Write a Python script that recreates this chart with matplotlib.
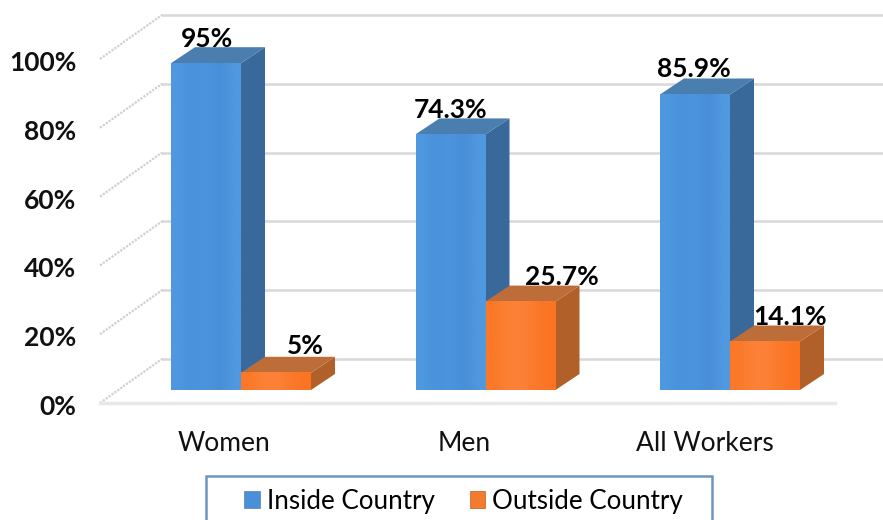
#!/usr/bin/env python3
"""Pseudo-3D clustered columns: work location by gender."""
import numpy as np
import matplotlib
matplotlib.use('Agg')
import matplotlib.pyplot as plt
from matplotlib.patches import Polygon, Patch, Rectangle
from matplotlib.transforms import ScaledTranslation

categories = ['Women', 'Men', 'All Workers']
inside_vals = [95, 74.3, 85.9]
outside_vals = [5, 25.7, 14.1]
inside_labels = ['95%', '74.3%', '85.9%']
outside_labels = ['5%', '25.7%', '14.1%']
y_ticks = [0, 20, 40, 60, 80, 100]
y_tick_labels = ['0%', '20%', '40%', '60%', '80%', '100%']

# pixel geometry of the picture
W, H = 883, 520
PX_X = 244.5   # px per category
PX_Y = 3.44    # px per percent
X0_PX = 241    # px of first category centre (boundary between its two bars)
AX_L, AX_R, AX_B, AX_T = 100, 883, 403, 15

BAR_W = 70 / PX_X
DX, DY = 24 / PX_X, 16 / PX_Y          # bar depth
BASE = 13 / PX_Y                       # bars stand behind the floor's front edge
WALL_DX, WALL_DY = 62 / PX_X, 44 / PX_Y
FLOOR_END = (835 - X0_PX) / PX_X

plt.rcParams['font.family'] = ['Lato', 'DejaVu Sans']

fig = plt.figure(figsize=(W / 100, H / 100), dpi=100)
ax = fig.add_axes([AX_L / W, 1 - AX_B / H, (AX_R - AX_L) / W, (AX_B - AX_T) / H])
xlim = ((AX_L - X0_PX) / PX_X, (AX_R - X0_PX) / PX_X)
ylim = (0, (AX_B - AX_T) / PX_Y)


def draw_bar(x, val, front, side, top, z):
    """One column: gradient front face plus side and top parallelograms."""
    y0, y1 = BASE, BASE + val
    ax.add_patch(Polygon([(x + BAR_W, y0), (x + BAR_W + DX, y0 + DY),
                          (x + BAR_W + DX, y1 + DY), (x + BAR_W, y1)],
                         closed=True, fc=side, ec='none', zorder=z))
    ax.add_patch(Polygon([(x, y1), (x + DX, y1 + DY), (x + BAR_W + DX, y1 + DY),
                          (x + BAR_W, y1)],
                         closed=True, fc=top, ec='none', zorder=z + 0.1))
    grad = np.array(front, dtype=float)[None, :, :] / 255
    ax.imshow(grad, extent=(x, x + BAR_W, y0, y1), aspect='auto',
              interpolation='bilinear', zorder=z + 0.2)


# back wall and left wall gridlines
left_x = xlim[0]
for t in y_ticks:
    ax.plot([left_x + WALL_DX, xlim[1]], [t + WALL_DY, t + WALL_DY],
            color='#d8d8d8', lw=1.8, zorder=1, clip_on=False)
    ax.plot([left_x, left_x + WALL_DX], [t, t + WALL_DY], color='#d0d0d0', lw=1.6,
            ls=(0, (1, 0.6)), zorder=1, clip_on=False)
ax.plot([left_x, FLOOR_END], [0, 0], color='#e8e8e8', lw=2.5, zorder=1, clip_on=False)

blue_front = [(78, 152, 224), (74, 146, 220), (76, 148, 222), (72, 142, 216), (80, 152, 224)]
orange_front = [(250, 120, 40), (252, 128, 52), (253, 130, 56), (251, 122, 44), (250, 116, 34)]

for i in range(len(categories)):
    draw_bar(i - BAR_W, inside_vals[i], blue_front, '#38699a', '#4a7eae', 2 + i)
    draw_bar(i, outside_vals[i], orange_front, '#b2602a', '#bd6d38', 2.5 + i)

# value labels, nudged in px as in the source picture
in_nudge = [(1, -4), (0, -4), (-1, -2)]
out_nudge = [(29, -1), (41, -3), (25, -4)]
for i in range(len(categories)):
    ax.annotate(inside_labels[i], xy=(i - BAR_W / 2, inside_vals[i] + BASE + DY),
                xytext=in_nudge[i], textcoords='offset pixels', ha='center', va='bottom',
                fontsize=19, fontweight='bold', color='black', zorder=20, annotation_clip=False)
    ax.annotate(outside_labels[i], xy=(i + BAR_W / 2, outside_vals[i] + BASE + DY),
                xytext=out_nudge[i], textcoords='offset pixels', ha='center', va='bottom',
                fontsize=19, fontweight='bold', color='black', zorder=20, annotation_clip=False)

ax.set_xlim(*xlim)
ax.set_ylim(*ylim)
ax.set_yticks(y_ticks)
ax.set_yticklabels(y_tick_labels, fontsize=19, fontweight='bold', color='#111111')
ax.set_xticks([(224 - X0_PX) / PX_X, (464 - X0_PX) / PX_X, (705 - X0_PX) / PX_X])
ax.set_xticklabels(categories, fontsize=19, color='#111111')
ax.tick_params(axis='y', length=0, pad=17)
ax.tick_params(axis='x', length=0, pad=20)
# labels sit a little below their gridline in the original
shift = ScaledTranslation(0, -1.5 / 72, fig.dpi_scale_trans)
for lab in ax.get_yticklabels():
    lab.set_transform(lab.get_transform() + shift)
for s in ax.spines.values():
    s.set_visible(False)
ax.patch.set_alpha(0)

# legend frame runs off the bottom of the picture
fig.add_artist(Rectangle((206 / W, -10 / H), (712 - 206) / W, (520 - 476 + 10) / H,
                         transform=fig.transFigure, fc='white', ec='#6f94c4', lw=1.8))
handles = [Patch(fc='#4a90d9', ec='#5a7fa8', lw=0.5, label='Inside Country'),
           Patch(fc='#f47a2c', ec='#b2602a', lw=0.5, label='Outside Country')]
leg = fig.legend(handles=handles, ncol=2, loc='center left',
                 bbox_to_anchor=(244 / W, 1 - 501 / H), fontsize=18.7, frameon=False,
                 handlelength=0.6, handleheight=0.6, columnspacing=1.36,
                 handletextpad=0.27, borderpad=0, borderaxespad=0)

fig.savefig('out.png', dpi=100)
